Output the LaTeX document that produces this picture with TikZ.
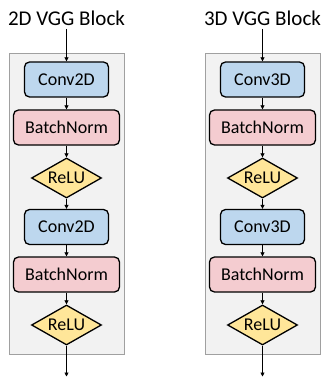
\documentclass[tikz,border=0pt]{standalone}
\usepackage{fontspec}
\setmainfont{Carlito}
\usetikzlibrary{shapes.geometric,arrows.meta}
\definecolor{convfill}{RGB}{189,215,238}
\definecolor{bnfill}{RGB}{244,204,208}
\definecolor{relufill}{RGB}{255,230,153}
\definecolor{panelfill}{RGB}{242,242,242}
\definecolor{panelline}{RGB}{160,160,160}
\tikzset{
  layerbox/.style={draw=black, line width=1.3pt, rounded corners=5pt, inner sep=0pt,
    minimum height=35pt, font=\fontsize{18pt}{20pt}\selectfont},
  convbox/.style={layerbox, fill=convfill, minimum width=84pt},
  bnbox/.style={layerbox, fill=bnfill, minimum width=106pt},
  relubox/.style={diamond, draw=black, line width=1.3pt, fill=relufill, inner sep=0pt,
    minimum width=70pt, minimum height=40pt, aspect=1.75, font=\fontsize{18pt}{20pt}\selectfont},
  panel/.style={draw=panelline, line width=0.8pt, fill=panelfill},
  title/.style={font=\fontsize{21pt}{24pt}\selectfont, inner sep=0pt},
  flow/.style={-{Triangle[length=4pt,width=4pt]}, line width=0.7pt, black, shorten >=0pt},
}
\begin{document}
\begin{tikzpicture}[x=1pt,y=-1pt]
\useasboundingbox (0,0) rectangle (323,377);
\foreach \cx/\d in {66.5/2, 262.5/3} {
  \begin{scope}[shift={(\cx,0)}]
    \draw[panel] (-57.5,53) rectangle (57.5,354.5);
    \node[title] (t\d) at (0,18) {\d D VGG Block};
    \coordinate (in\d) at (0,29);
    \node[convbox] (ca\d) at (0,79.5) {Conv\d D};
    \node[bnbox] (ba\d) at (0,127.5) {BatchNorm};
    \node[relubox] (ra\d) at (0,178) {ReLU};
    \node[convbox] (cb\d) at (0,227) {Conv\d D};
    \node[bnbox] (bb\d) at (0,274.5) {BatchNorm};
    \node[relubox] (rb\d) at (0,325) {ReLU};
    \coordinate (out\d) at (0,376.5);
    \draw[flow] (in\d) -- (ca\d);
    \draw[flow] (ca\d) -- (ba\d);
    \draw[flow] (ba\d) -- (ra\d);
    \draw[flow] (ra\d) -- (cb\d);
    \draw[flow] (cb\d) -- (bb\d);
    \draw[flow] (bb\d) -- (rb\d);
    \draw[flow] (rb\d) -- (out\d);
  \end{scope}
}
\end{tikzpicture}
\end{document}
